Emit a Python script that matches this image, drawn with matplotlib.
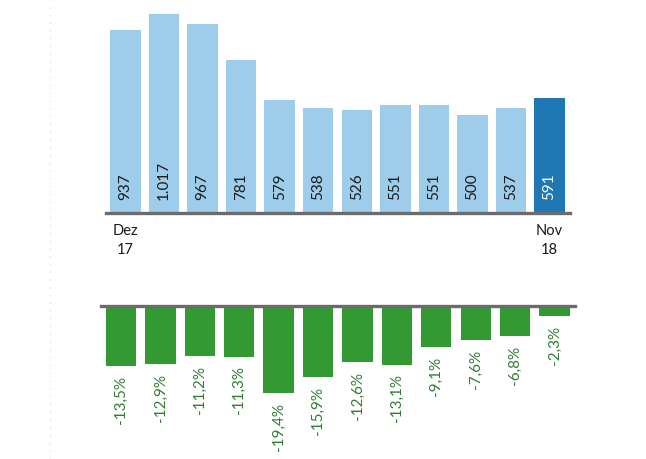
import matplotlib.pyplot as plt
from matplotlib.lines import Line2D

plt.rcParams['font.family'] = ['Lato', 'DejaVu Sans']

values = [937, 1017, 967, 781, 579, 538, 526, 551, 551, 500, 537, 591]
value_labels = ['937', '1.017', '967', '781', '579', '538', '526', '551', '551', '500', '537', '591']
changes = [-13.5, -12.9, -11.2, -11.3, -19.4, -15.9, -12.6, -13.1, -9.1, -7.6, -6.8, -2.3]
change_labels = ['-13,5%', '-12,9%', '-11,2%', '-11,3%', '-19,4%', '-15,9%',
                 '-12,6%', '-13,1%', '-9,1%', '-7,6%', '-6,8%', '-2,3%']
first_label = 'Dez\n17'
last_label = 'Nov\n18'

W, H = 646, 459
fig = plt.figure(figsize=(W / 100, H / 100), dpi=100)

light = '#9dcdeb'
dark = '#1f78b4'
green = '#339a33'
axis_gray = '#6b6b6b'

# top chart
ax = fig.add_axes([106 / W, (H - 213) / H, (570 - 106) / W, 213 / H])
x = list(range(len(values)))
colors = [light] * (len(values) - 1) + [dark]
ax.bar(x, values, width=0.79, color=colors)
ax.set_xlim(-0.506, 11.53)
ax.set_ylim(0, 1090)
for s in ['top', 'left', 'right']:
    ax.spines[s].set_visible(False)
ax.spines['bottom'].set_color(axis_gray)
ax.spines['bottom'].set_linewidth(2.4)
ax.set_xticks([])
ax.set_yticks([])
for i, lab in enumerate(value_labels):
    c = 'white' if i == len(values) - 1 else '#1a1a1a'
    ax.annotate(lab, (i, 0), xytext=(0, 9), textcoords='offset points',
                rotation=90, ha='center', va='bottom', fontsize=11, color=c)
ax.annotate(first_label, (0, 0), xytext=(0, -8), textcoords='offset points',
            ha='center', va='top', fontsize=10.5, color='#1a1a1a', linespacing=1.45,
            annotation_clip=False)
ax.annotate(last_label, (11, 0), xytext=(0, -8), textcoords='offset points',
            ha='center', va='top', fontsize=10.5, color='#1a1a1a', linespacing=1.45,
            annotation_clip=False)

# bottom chart
ax2 = fig.add_axes([101 / W, 0, (575 - 101) / W, (H - 306) / H])
ax2.bar(x, changes, width=0.77, color=green)
ax2.set_xlim(-0.508, 11.52)
ax2.set_ylim(-153 / 4.48, 0)
for s in ['bottom', 'left', 'right']:
    ax2.spines[s].set_visible(False)
ax2.spines['top'].set_color(axis_gray)
ax2.spines['top'].set_linewidth(2.4)
ax2.set_xticks([])
ax2.set_yticks([])
for i, lab in enumerate(change_labels):
    ax2.annotate(lab, (i, changes[i]), xytext=(0, -7), textcoords='offset points',
                 rotation=90, ha='center', va='top', fontsize=11, color='#2f7d32',
                 annotation_clip=False)

# faint dotted guide at the left edge
fig.add_artist(Line2D([50 / W, 50 / W], [0, 1], color='#d8d8d8', lw=0.8,
                      linestyle=(0, (1, 6)), transform=fig.transFigure))

fig.savefig('out.png', dpi=100)
